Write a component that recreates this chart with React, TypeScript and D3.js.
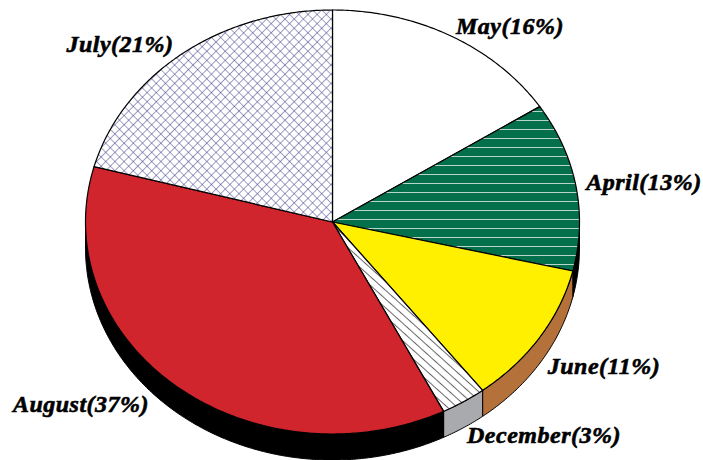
import React from "react";
import * as d3 from "d3";

const months = ["May", "April", "June", "December", "August", "July"];
const shares = [16, 13, 11, 3, 37, 21];
const sideColors = ["#000000", "#000000", "#b5713a", "#a9aaad", "#000000", "#000000"];
const fills = ["#ffffff", "url(#stripes)", "#fff000", "url(#diag)", "#d0252c", "url(#cross)"];
const labelX = [510, 644, 604, 544, 81, 120];
const labelY = [34, 190, 374, 443, 412, 52];

const width = 703;
const height = 460;
const cx = 332.5;
const cy = 222;
const rx = 247;
const ry = 212;
const depth = 26;

const pie = d3.pie<number>().sort(null).value((d) => d);
const slices = pie(shares);

const px = (a: number) => cx + rx * Math.sin(a);
const py = (a: number) => cy - ry * Math.cos(a);
const line = d3.line();

function rimPoints(a0: number, a1: number) {
  return d3.range(a0, a1, 0.01).concat(a1).map((a) => [px(a), py(a)] as [number, number]);
}

// pie slice in page pixels, so the fill patterns do not get squashed
function slicePath(a0: number, a1: number) {
  return line([[cx, cy], ...rimPoints(a0, a1)]) + "Z";
}

// the visible part of the rim: only what lies on the lower half
function sidePath(a0: number, a1: number) {
  const from = Math.max(a0, Math.PI / 2);
  const to = Math.min(a1, (3 * Math.PI) / 2);
  if (to <= from) return null;
  const top = rimPoints(from, to);
  const bottom = top.map(([x, y]) => [x, y + depth] as [number, number]).reverse();
  return line([...top, ...bottom]) + "Z";
}

export default function App() {
  return (
    <svg
      width={width}
      height={height}
      style={{ position: "fixed", left: 0, top: 0, background: "#fff" }}
    >
      <defs>
        <pattern id="stripes" width="8" height="9" patternUnits="userSpaceOnUse" y="3">
          <rect width="8" height="9" fill="#04704b" />
          <rect y="0" width="8" height="0.8" fill="#e6efe9" />
        </pattern>
        <pattern id="diag" width="6.5" height="6.5" patternUnits="userSpaceOnUse" patternTransform="rotate(42)">
          <rect width="6.5" height="6.5" fill="#fff" />
          <line x1="0" y1="3.25" x2="6.5" y2="3.25" stroke="#666" strokeWidth="1" />
        </pattern>
        <pattern id="cross" width="6.5" height="6.5" patternUnits="userSpaceOnUse" patternTransform="rotate(45)">
          <rect width="6.5" height="6.5" fill="#fff" />
          <path d="M0 0H6.5M0 0V6.5" stroke="#3c3c86" strokeWidth="1" fill="none" />
        </pattern>
      </defs>

      {slices.map((s, i) => {
        const d = sidePath(s.startAngle, s.endAngle);
        return d ? <path key={i} d={d} fill={sideColors[i]} stroke="#000" strokeWidth={1} /> : null;
      })}

      {slices.map((s, i) => (
        <path key={i} d={slicePath(s.startAngle, s.endAngle)} fill={fills[i]} stroke="#000" strokeWidth={1.2} />
      ))}

      {months.map((m, i) => (
        <text
          key={m}
          x={labelX[i]}
          y={labelY[i]}
          textAnchor="middle"
          fontFamily="'Liberation Serif', serif"
          fontWeight="bold"
          fontStyle="italic"
          fontSize={24}
          letterSpacing={0.5}
          fill="#000"
          stroke="#000"
          strokeWidth={0.6}
        >
          {`${m}(${shares[i]}%)`}
        </text>
      ))}
    </svg>
  );
}
